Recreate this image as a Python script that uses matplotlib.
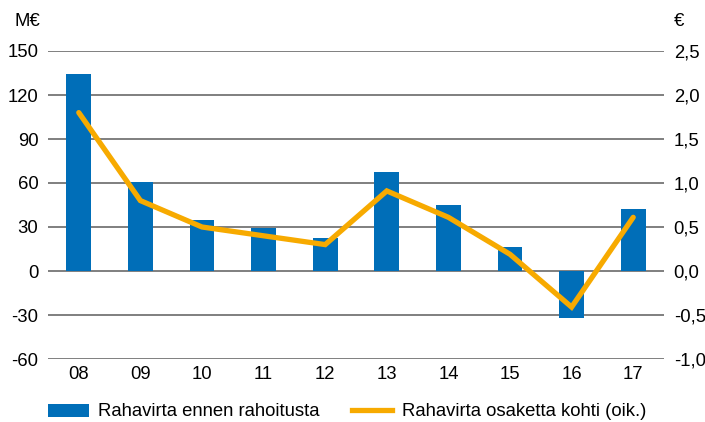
import matplotlib
matplotlib.use("Agg")
import matplotlib.pyplot as plt
from matplotlib.patches import Patch
from matplotlib.lines import Line2D

plt.rcParams['font.family'] = ['Liberation Sans', 'DejaVu Sans']

categories = ["08", "09", "10", "11", "12", "13", "14", "15", "16", "17"]
cash_flow = [134, 60.5, 35, 29.5, 22.3, 67.5, 45, 16.4, -31.8, 42.3]
per_share = [1.80, 0.80, 0.50, 0.40, 0.30, 0.91, 0.61, 0.19, -0.41, 0.61]
left_ticks = [-60, -30, 0, 30, 60, 90, 120, 150]
right_ticks = [-1.0, -0.5, 0.0, 0.5, 1.0, 1.5, 2.0, 2.5]
bar_label = "Rahavirta ennen rahoitusta"
line_label = "Rahavirta osaketta kohti (oik.)"

BLUE = "#006EB8"
ORANGE = "#F7AA00"
GRID = "#7F7F7F"
FS = 13.3

fig = plt.figure(figsize=(7.05, 4.22), dpi=100)
W, H = 705, 422
ax = fig.add_axes([48 / W, 1 - 359 / H, (664 - 48) / W, (359 - 51) / H])
ax2 = ax.twinx()

x = list(range(len(categories)))
ax.bar(x, cash_flow, width=0.4, color=BLUE, zorder=3)
ax.set_xlim(-0.5, len(categories) - 0.5)
ax.set_ylim(-60, 150)
ax.set_yticks(left_ticks)
ax.set_yticklabels([str(t) for t in left_ticks], fontsize=FS)
ax.set_xticks(x)
ax.set_xticklabels(categories, fontsize=FS)
ax.tick_params(axis='x', length=0, pad=5)
ax.tick_params(axis='y', length=0, pad=7)
for t in left_ticks:
    ax.axhline(t, color=GRID, lw=1.4, zorder=1)

ax2.plot(x, per_share, color=ORANGE, lw=3.8, solid_capstyle='round', solid_joinstyle='miter', zorder=4)
ax2.set_ylim(-1.0, 2.5)
ax2.set_yticks(right_ticks)
ax2.set_yticklabels([f"{t:.1f}".replace(".", ",") for t in right_ticks], fontsize=FS)
ax2.tick_params(axis='y', length=0, pad=7)

for a in (ax, ax2):
    for s in a.spines.values():
        s.set_visible(False)

fig.text(14 / W, 1 - 22 / H, "M€", fontsize=FS, va='center', ha='left')
fig.text(674 / W, 1 - 22 / H, "€", fontsize=FS, va='center', ha='left')

handles = [Patch(facecolor=BLUE, edgecolor='none'),
           Line2D([0], [0], color=ORANGE, lw=3.8)]
fig.legend(handles, [bar_label, line_label], loc='center left',
           bbox_to_anchor=(48 / W, 1 - 412 / H), ncol=2, frameon=False,
           fontsize=FS, handlelength=2.2, handleheight=0.7, columnspacing=1.75,
           handletextpad=0.5, borderpad=0, borderaxespad=0)

fig.savefig("out.png", dpi=100)
